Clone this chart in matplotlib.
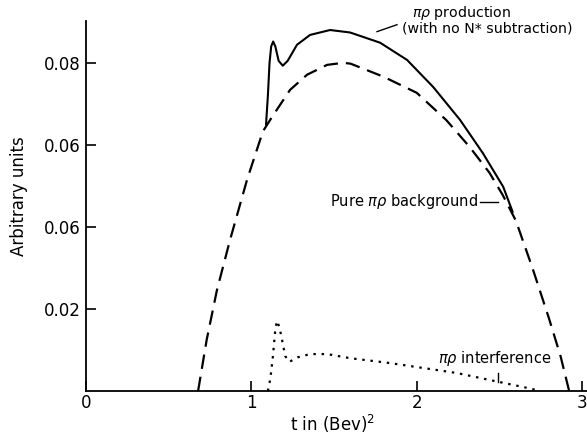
import numpy as np
import matplotlib
matplotlib.use('Agg')
import matplotlib.pyplot as plt

# --- values ---
# pure pi-rho background (dashed)
bg_t = [0.678, 0.73, 0.792, 0.871, 0.974, 1.07, 1.125, 1.234, 1.337, 1.458,
        1.555, 1.60, 1.80, 2.0, 2.18, 2.32, 2.44, 2.52, 2.60, 2.70, 2.80,
        2.87, 2.922]
bg_v = [0.0, 0.0125, 0.0246, 0.0368, 0.0515, 0.0633, 0.0668, 0.0734, 0.0771,
        0.0795, 0.0800, 0.0798, 0.0766, 0.0727, 0.0660, 0.0595, 0.0532,
        0.0478, 0.0415, 0.0300, 0.0177, 0.0085, 0.0]

# pi-rho production, no N* subtraction (solid)
prod_t = [1.089, 1.100, 1.110, 1.120, 1.132, 1.145, 1.165, 1.19, 1.22, 1.276,
          1.355, 1.476, 1.597, 1.779, 1.942, 2.10, 2.262, 2.40, 2.523, 2.58]
prod_v = [0.0650, 0.0720, 0.0800, 0.0840, 0.0852, 0.0840, 0.0805, 0.0793,
          0.0805, 0.0844, 0.0868, 0.0880, 0.0874, 0.0849, 0.0807, 0.0741,
          0.0661, 0.0580, 0.0498, 0.0437]

# pi-rho interference (dotted)
intf_t = [1.10, 1.115, 1.13, 1.145, 1.155, 1.17, 1.186, 1.205, 1.23, 1.28,
          1.355, 1.458, 1.597, 1.84, 2.04, 2.24, 2.44, 2.64, 2.73]
intf_v = [0.0, 0.003, 0.0083, 0.015, 0.0171, 0.0155, 0.0124, 0.0085, 0.0071,
          0.0082, 0.0090, 0.0090, 0.0080, 0.0068, 0.0056, 0.0044, 0.0027,
          0.0010, 0.0002]

x_ticks = [0, 1, 2, 3]
y_ticks = [0.02, 0.04, 0.06, 0.08]
y_ticklabels = ['0.02', '0.06', '0.06', '0.08']  # as printed in the original

plt.rcParams['font.family'] = 'DejaVu Sans'
plt.rcParams['mathtext.fontset'] = 'dejavusans'

fig = plt.figure(figsize=(5.87, 4.40), dpi=100)
ax = fig.add_axes([0.1465, 0.1114, 0.8535, 0.8409])

ax.plot(bg_t, bg_v, color='black', lw=1.6, dashes=(6.5, 3.6))
ax.plot(prod_t, prod_v, color='black', lw=1.5)
ax.plot(intf_t, intf_v, color='black', lw=1.6, dashes=(1.1, 2.6))

ax.set_xlim(0, 3.03)
ax.set_ylim(0, 0.0902)
ax.set_xticks(x_ticks)
ax.set_yticks(y_ticks)
ax.set_yticklabels(y_ticklabels)

for side in ['top', 'right']:
    ax.spines[side].set_visible(False)
for side in ['left', 'bottom']:
    ax.spines[side].set_linewidth(1.3)
ax.tick_params(direction='in', length=7, width=1.2, labelsize=12)
ax.tick_params(axis='x', pad=2)
ax.tick_params(axis='y', pad=4)

ax.set_ylabel('Arbitrary units', fontsize=12)
ax.yaxis.set_label_coords(-0.115, 0.527)
ax.set_xlabel('t in (Bev)$^2$', fontsize=12)
ax.xaxis.set_label_coords(0.493, -0.058)

# annotations
ax.text(1.972, 0.0922, r'$\pi\rho$ production', fontsize=10.2,
        va='center', ha='left', clip_on=False)
ax.text(1.912, 0.0883, '(with no N* subtraction)', fontsize=10.2,
        va='center', ha='left', clip_on=False)
ax.plot([1.760, 1.881], [0.0876, 0.0893], color='black', lw=1.0, clip_on=False)

ax.text(1.476, 0.0461, r'Pure $\pi\rho$ background', fontsize=10.5,
        va='center', ha='left')
ax.plot([2.385, 2.49], [0.0461, 0.0461], color='black', lw=1.0)

ax.text(2.13, 0.0080, r'$\pi\rho$ interference', fontsize=10.5,
        va='center', ha='left')
ax.plot([2.49, 2.49], [0.0022, 0.0044], color='black', lw=1.0)

fig.savefig('out.png', dpi=100)
